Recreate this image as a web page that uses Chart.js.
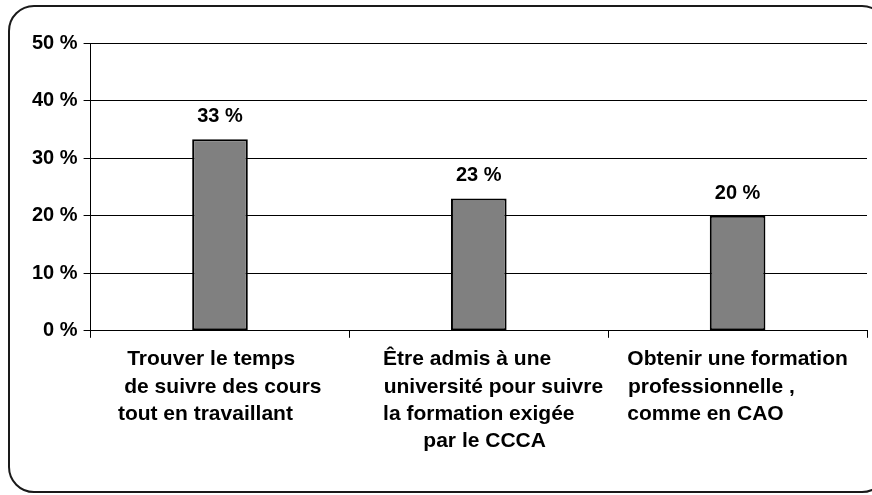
<!DOCTYPE html>
<html>
<head>
<meta charset="utf-8">
<script src="https://cdn.jsdelivr.net/npm/chart.js@4/dist/chart.umd.min.js"></script>
<style>
  html, body { margin: 0; padding: 0; background: #fff; overflow: hidden; }
  #wrap { position: relative; width: 872px; height: 495px; }
  #frame {
    position: absolute; left: 8px; top: 5px; width: 876px; height: 484px;
    border: 2px solid #1a1a1a; border-radius: 26px; pointer-events: none;
  }
  canvas { position: absolute; left: 0; top: 0; }
</style>
</head>
<body>
<div id="wrap">
  <canvas id="myChart" width="872" height="495"></canvas>
  <div id="frame"></div>
</div>
<script>
// categories (line breaks as in the picture)
const categories = [
    ['Trouver le temps   ', ' de suivre des cours', 'tout en travaillant     '],
    ['Être admis à une    ', '     université pour suivre', 'la formation exigée', '  par le CCCA'],
    ['Obtenir une formation', 'professionnelle ,         ', 'comme en CAO           ']
];
const shares = [33.3, 23, 20];
const shareLabels = ['33 %', '23 %', '20 %'];
const yTicks = [0, 10, 20, 30, 40, 50];

const valueLabels = {
    id: 'valueLabels',
    afterDatasetsDraw(chart) {
        const ctx = chart.ctx;
        const meta = chart.getDatasetMeta(0);
        ctx.save();
        ctx.font = 'bold 20px "Liberation Sans", Arial, sans-serif';
        ctx.fillStyle = '#000';
        ctx.textAlign = 'center';
        ctx.textBaseline = 'alphabetic';
        meta.data.forEach((bar, i) => {
            ctx.fillText(shareLabels[i], bar.x, bar.y - 17);
        });
        ctx.restore();
    }
};

function loadChart() {
    const ctx = document.getElementById('myChart');
    new Chart(ctx, {
        type: 'bar',
        data: {
            labels: categories,
            datasets: [{
                data: shares,
                backgroundColor: '#808080',
                borderColor: '#000',
                borderWidth: 2,
                borderSkipped: false,
                categoryPercentage: 1,
                barPercentage: 0.215
            }]
        },
        options: {
            responsive: false,
            animation: false,
            layout: {
                padding: { left: 26, right: 5, top: 43, bottom: 32 }
            },
            scales: {
                x: {
                    grid: {
                        display: true,
                        drawOnChartArea: false,
                        drawTicks: true,
                        tickLength: 7,
                        color: '#000',
                        offset: true
                    },
                    border: { display: true, color: '#000', width: 1 },
                    ticks: {
                        color: '#000',
                        padding: 8,
                        maxRotation: 0,
                        autoSkip: false,
                        font: { family: '"Liberation Sans", Arial, sans-serif', size: 21, weight: 'bold', lineHeight: 1.3 }
                    }
                },
                y: {
                    min: 0,
                    max: 50,
                    afterBuildTicks(scale) {
                        scale.ticks = yTicks.map(v => ({ value: v }));
                    },
                    grid: {
                        color: '#000',
                        lineWidth: 1,
                        tickLength: 7
                    },
                    border: { display: true, color: '#000', width: 1 },
                    ticks: {
                        color: '#000',
                        padding: 6,
                        callback: v => v + ' %',
                        font: { family: '"Liberation Sans", Arial, sans-serif', size: 20, weight: 'bold' }
                    }
                }
            },
            plugins: {
                legend: { display: false },
                tooltip: { enabled: false },
                title: { display: false }
            }
        },
        plugins: [valueLabels]
    });
}

loadChart();
</script>
</body>
</html>
